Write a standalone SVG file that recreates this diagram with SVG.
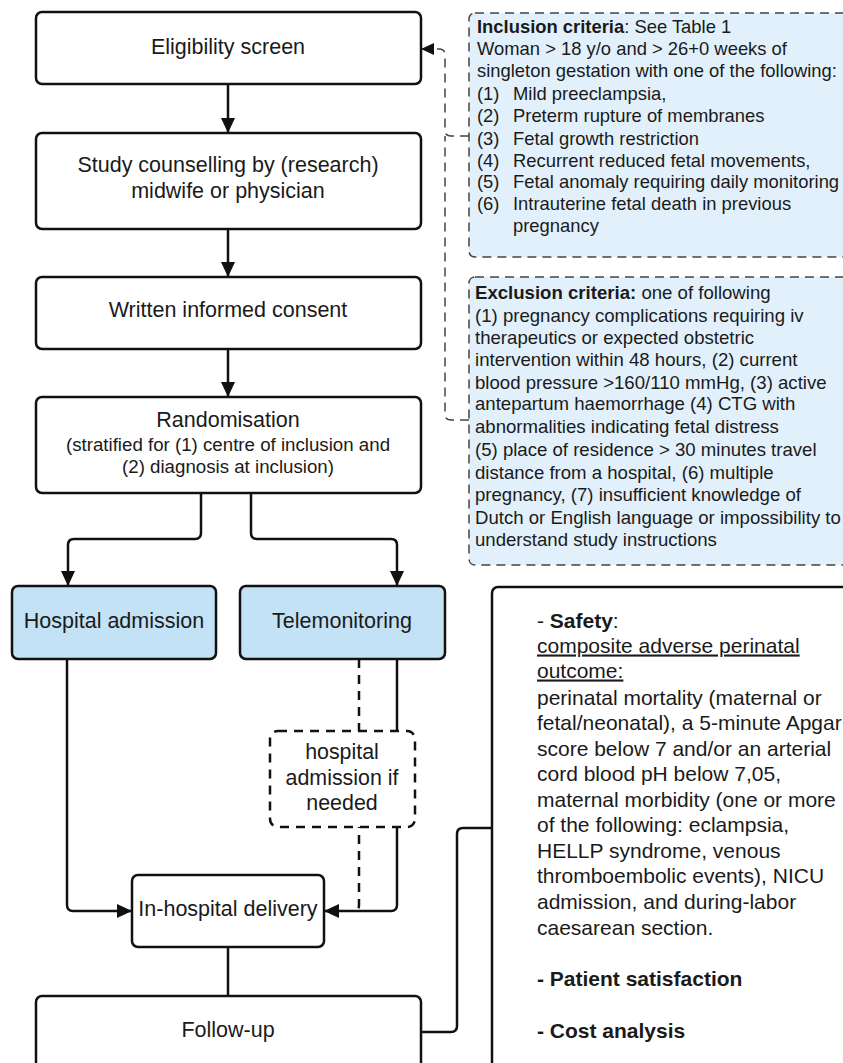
<svg xmlns="http://www.w3.org/2000/svg" width="843" height="1063" viewBox="0 0 843 1063">
<defs>
<marker id="arr" markerUnits="userSpaceOnUse" markerWidth="16" markerHeight="14" refX="15" refY="7" orient="auto">
<path d="M0,0 L15,7 L0,14 Z" fill="#111"/>
</marker>
<marker id="arrs" markerUnits="userSpaceOnUse" markerWidth="14" markerHeight="12" refX="13" refY="6" orient="auto">
<path d="M0,0 L13,6 L0,12 Z" fill="#111"/>
</marker>
<style>
.node{fill:#fff;stroke:#111;stroke-width:2.5}
.blue{fill:#c4e2f5;stroke:#111;stroke-width:2.5}
.crit{fill:#e2f0fb;stroke:#444;stroke-width:1.5;stroke-dasharray:9 6}
.dnode{fill:#fff;stroke:#111;stroke-width:2.5;stroke-dasharray:9 7}
.line{fill:none;stroke:#111;stroke-width:2.5}
.dline{fill:none;stroke:#111;stroke-width:2.5;stroke-dasharray:9 7}
.cline{fill:none;stroke:#444;stroke-width:1.5;stroke-dasharray:9 6}
text{font-family:"Liberation Sans",Arial,sans-serif;fill:#1a1a1a}
.t20{font-size:21.5px;text-anchor:middle}
.t16c{font-size:18.7px;text-anchor:middle}
.t18c{font-size:21.4px;text-anchor:middle}
.inc{font-size:18.4px}
.exc{font-size:18.6px}
.out{font-size:21px}
.b{font-weight:bold}
</style>
</defs>

<g id="connectors">
<path class="line" d="M228,84 V133" marker-end="url(#arr)"/>
<path class="line" d="M228,229 V277" marker-end="url(#arr)"/>
<path class="line" d="M228,349 V397" marker-end="url(#arr)"/>
<path class="line" d="M201,493 V533 Q201,539 195,539 H74 Q68,539 68,545 V586" marker-end="url(#arr)"/>
<path class="line" d="M251,493 V533 Q251,539 257,539 H391 Q397,539 397,545 V586" marker-end="url(#arr)"/>
<path class="line" d="M67,659 V905 Q67,911 73,911 H132" marker-end="url(#arr)"/>
<path class="dline" d="M359,659 V905 Q359,911 353,911"/>
<path class="line" d="M397,659 V905 Q397,911 391,911 H324" marker-end="url(#arr)"/>
<path class="line" d="M228,947 V996"/>
<path class="line" d="M421,1032 H451 Q457,1032 457,1026 V834 Q457,828 463,828 H492"/>
<path class="cline" d="M469,136 H451 Q445,136 445,130 V55 Q445,49 439,49 H421" marker-end="url(#arrs)"/>
<path class="cline" d="M469,420 H451 Q445,420 445,414 V136"/>
</g>

<g id="eligibility">
<rect class="node" x="36" y="12" width="385" height="72" rx="6"/>
<text class="t20" x="228" y="53.7">Eligibility screen</text>
</g>

<g id="counselling">
<rect class="node" x="36" y="133" width="385" height="96" rx="6"/>
<text class="t20" x="228" y="171.7">Study counselling by (research)</text>
<text class="t20" x="228" y="197.7">midwife or physician</text>
</g>

<g id="consent">
<rect class="node" x="36" y="277" width="385" height="72" rx="6"/>
<text class="t20" x="228" y="316.7">Written informed consent</text>
</g>

<g id="randomisation">
<rect class="node" x="36" y="397" width="385" height="96" rx="6"/>
<text class="t20" x="228" y="426.7">Randomisation</text>
<text class="t16c" x="228" y="450.7">(stratified for (1) centre of inclusion and</text>
<text class="t16c" x="228" y="472.7">(2) diagnosis at inclusion)</text>
</g>

<g id="hospital-admission">
<rect class="blue" x="12" y="586" width="204" height="73" rx="6"/>
<text class="t20" x="114" y="627.7">Hospital admission</text>
</g>

<g id="telemonitoring">
<rect class="blue" x="240" y="586" width="205" height="73" rx="6"/>
<text class="t20" x="342" y="627.7">Telemonitoring</text>
</g>

<g id="admission-if-needed">
<rect class="dnode" x="270" y="731" width="145" height="96" rx="8"/>
<text class="t18c" x="342" y="758.7">hospital</text>
<text class="t18c" x="342" y="784.7">admission if</text>
<text class="t18c" x="342" y="809.7">needed</text>
</g>

<g id="delivery">
<rect class="node" x="132" y="875" width="192" height="72" rx="6"/>
<text class="t20" x="228" y="915.7">In-hospital delivery</text>
</g>

<g id="follow-up">
<rect class="node" x="36" y="996" width="385" height="90" rx="6"/>
<text class="t20" x="228" y="1036.7">Follow-up</text>
</g>

<g id="outcomes">
<rect class="node" x="492" y="587" width="370" height="500" rx="6"/>
<text class="out" x="537" y="627.5">- <tspan class="b">Safety</tspan>:</text>
<text class="out" x="537" y="652.5" text-decoration="underline">composite adverse perinatal</text>
<text class="out" x="537" y="677.5" text-decoration="underline">outcome:</text>
<text class="out" x="537" y="704.5">perinatal mortality (maternal or</text>
<text class="out" x="537" y="729.5">fetal/neonatal), a 5-minute Apgar</text>
<text class="out" x="537" y="755.5">score below 7 and/or an arterial</text>
<text class="out" x="537" y="780.5">cord blood pH below 7,05,</text>
<text class="out" x="537" y="806.5">maternal morbidity (one or more</text>
<text class="out" x="537" y="831.5">of the following: eclampsia,</text>
<text class="out" x="537" y="857.5">HELLP syndrome, venous</text>
<text class="out" x="537" y="882.5">thromboembolic events), NICU</text>
<text class="out" x="537" y="908.5">admission, and during-labor</text>
<text class="out" x="537" y="934.5">caesarean section.</text>
<text class="out b" x="537" y="985.5">- Patient satisfaction</text>
<text class="out b" x="537" y="1037.5">- Cost analysis</text>
</g>

<g id="inclusion">
<rect class="crit" x="469" y="13" width="390" height="244" rx="6"/>
<text class="inc" x="477" y="33"><tspan class="b">Inclusion criteria</tspan>: See Table 1</text>
<text class="inc" x="477" y="55">Woman &gt; 18 y/o and &gt; 26+0 weeks of</text>
<text class="inc" x="477" y="77">singleton gestation with one of the following:</text>
<text class="inc" x="477" y="100">(1)</text><text class="inc" x="513" y="100">Mild preeclampsia,</text>
<text class="inc" x="477" y="122">(2)</text><text class="inc" x="513" y="122">Preterm rupture of membranes</text>
<text class="inc" x="477" y="145">(3)</text><text class="inc" x="513" y="145">Fetal growth restriction</text>
<text class="inc" x="477" y="167">(4)</text><text class="inc" x="513" y="167">Recurrent reduced fetal movements,</text>
<text class="inc" x="477" y="188">(5)</text><text class="inc" x="513" y="188">Fetal anomaly requiring daily monitoring</text>
<text class="inc" x="477" y="210">(6)</text><text class="inc" x="513" y="210">Intrauterine fetal death in previous</text>
<text class="inc" x="513" y="232">pregnancy</text>
</g>

<g id="exclusion">
<rect class="crit" x="469" y="277" width="390" height="288" rx="6"/>
<text class="exc" x="475" y="298.6"><tspan class="b">Exclusion criteria:</tspan> one of following</text>
<text class="exc" x="475" y="321.6">(1) pregnancy complications requiring iv</text>
<text class="exc" x="475" y="343.6">therapeutics or expected obstetric</text>
<text class="exc" x="475" y="365.6">intervention within 48 hours, (2) current</text>
<text class="exc" x="475" y="388.6">blood pressure &gt;160/110 mmHg, (3) active</text>
<text class="exc" x="475" y="409.6">antepartum haemorrhage (4) CTG  with</text>
<text class="exc" x="475" y="432.6">abnormalities indicating fetal distress</text>
<text class="exc" x="475" y="455.6">(5) place of residence &gt; 30 minutes travel</text>
<text class="exc" x="475" y="478.6">distance from a hospital, (6) multiple</text>
<text class="exc" x="475" y="500.6">pregnancy, (7) insufficient knowledge of</text>
<text class="exc" x="475" y="523.6">Dutch or English language or impossibility to</text>
<text class="exc" x="475" y="545.6">understand study instructions</text>
</g>
</svg>
